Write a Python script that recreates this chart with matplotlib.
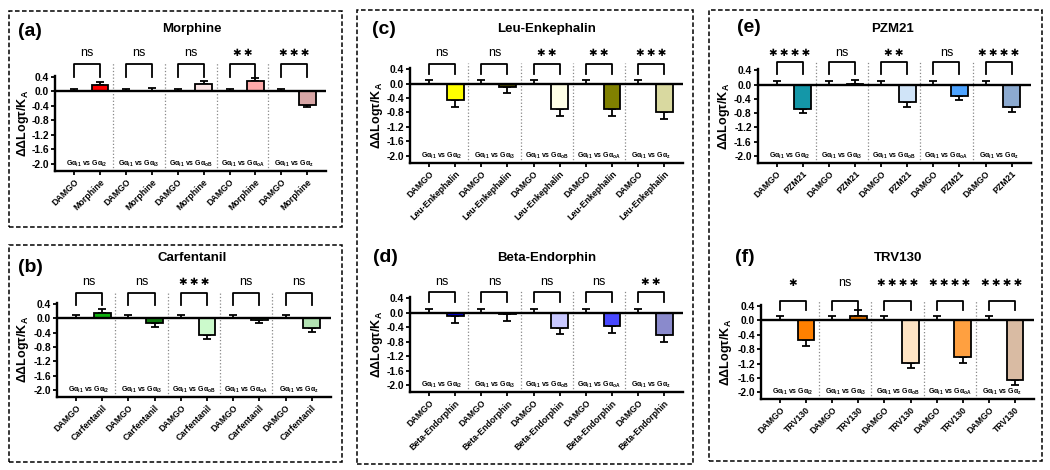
import numpy as np
import matplotlib
matplotlib.use("Agg")
import matplotlib.pyplot as plt
from matplotlib.patches import Rectangle

plt.rcParams["font.family"] = ["Liberation Sans", "DejaVu Sans"]
plt.rcParams["font.weight"] = "bold"
plt.rcParams["mathtext.default"] = "regular"

W, H = 1050, 470

# ---- data ----
PAIR_LABELS = [r"G$\alpha_{i1}$ vs G$\alpha_{i2}$", r"G$\alpha_{i1}$ vs G$\alpha_{i3}$",
               r"G$\alpha_{i1}$ vs G$\alpha_{oB}$", r"G$\alpha_{i1}$ vs G$\alpha_{oA}$",
               r"G$\alpha_{i1}$ vs G$\alpha_{z}$"]
Y_TICKS = [0.4, 0.0, -0.4, -0.8, -1.2, -1.6, -2.0]
REFERENCE = "DAMGO"

MORPHINE_MEAN = [0.18, 0.01, 0.20, 0.29, -0.36]
MORPHINE_ERR = [0.08, 0.08, 0.08, 0.08, 0.08]
MORPHINE_DAMGO_ERR = 0.06
MORPHINE_SIG = ["ns", "ns", "ns", "**", "***"]

CARFENTANIL_MEAN = [0.16, -0.13, -0.47, -0.04, -0.26]
CARFENTANIL_ERR = [0.10, 0.12, 0.11, 0.10, 0.11]
CARFENTANIL_DAMGO_ERR = 0.08
CARFENTANIL_SIG = ["ns", "ns", "***", "ns", "ns"]

LEU_MEAN = [-0.45, -0.08, -0.70, -0.70, -0.80]
LEU_ERR = [0.19, 0.18, 0.19, 0.19, 0.19]
LEU_DAMGO_ERR = 0.09
LEU_SIG = ["ns", "ns", "**", "**", "***"]

BETA_MEAN = [-0.08, -0.03, -0.41, -0.37, -0.61]
BETA_ERR = [0.20, 0.19, 0.19, 0.19, 0.20]
BETA_DAMGO_ERR = 0.09
BETA_SIG = ["ns", "ns", "ns", "ns", "**"]

PZM_MEAN = [-0.67, 0.01, -0.50, -0.32, -0.64]
PZM_ERR = [0.12, 0.12, 0.13, 0.12, 0.12]
PZM_DAMGO_ERR = 0.11
PZM_SIG = ["****", "ns", "**", "ns", "****"]

TRV_MEAN = [-0.54, 0.13, -1.18, -1.03, -1.65]
TRV_ERR = [0.17, 0.16, 0.15, 0.16, 0.16]
TRV_DAMGO_ERR = 0.13
TRV_SIG = ["*", "ns", "****", "****", "****"]

# ---- layout (pixels) ----
PANELS = [
    dict(tag="(a)", name="Morphine", mean=MORPHINE_MEAN, err=MORPHINE_ERR,
         derr=MORPHINE_DAMGO_ERR, sig=MORPHINE_SIG,
         colors=["#FF0000", "#B00000", "#FCE4E4", "#FFAAAA", "#D8A6A6"],
         x0=74, x9=307.3, y04=77, y20=164, br=(0.39, 0.75, 1.05),
         title=(192, 29), label=(18, 31), ylab=23),
    dict(tag="(b)", name="Carfentanil", mean=CARFENTANIL_MEAN, err=CARFENTANIL_ERR,
         derr=CARFENTANIL_DAMGO_ERR, sig=CARFENTANIL_SIG,
         colors=["#10B010", "#107A10", "#CCFACC", "#7FD87F", "#B4E4B4"],
         x0=76, x9=311.7, y04=304, y20=390, br=(0.36, 0.72, 1.02),
         title=(192, 258), label=(18, 268), ylab=23),
    dict(tag="(c)", name="Leu-Enkephalin", mean=LEU_MEAN, err=LEU_ERR,
         derr=LEU_DAMGO_ERR, sig=LEU_SIG,
         colors=["#FFFF00", "#404000", "#FFFFE6", "#808000", "#D9D9A0"],
         x0=429, x9=664.3, y04=69.3, y20=155.7, br=(0.27, 0.55, 0.84),
         title=(547, 29), label=(372, 30), ylab=377),
    dict(tag="(d)", name="Beta-Endorphin", mean=BETA_MEAN, err=BETA_ERR,
         derr=BETA_DAMGO_ERR, sig=BETA_SIG,
         colors=["#0000E0", "#2020A0", "#C8C8FF", "#4848FF", "#8A8ACC"],
         x0=429, x9=664.3, y04=298.3, y20=385, br=(0.30, 0.57, 0.84),
         title=(547, 258), label=(373, 258), ylab=377),
    dict(tag="(e)", name="PZM21", mean=PZM_MEAN, err=PZM_ERR,
         derr=PZM_DAMGO_ERR, sig=PZM_SIG,
         colors=["#1497A8", "#1070A0", "#D0E4F8", "#4DA3FF", "#8CAAD0"],
         x0=776.7, x9=1011.7, y04=70.3, y20=156, br=(0.29, 0.63, 0.89),
         title=(893, 29), label=(737, 28), ylab=724),
    dict(tag="(f)", name="TRV130", mean=TRV_MEAN, err=TRV_ERR,
         derr=TRV_DAMGO_ERR, sig=TRV_SIG,
         colors=["#FF8000", "#D36B00", "#FFE4C4", "#FFA040", "#D9BBA3"],
         x0=780, x9=1015, y04=306, y20=392.3, br=(0.29, 0.55, 1.05),
         title=(898, 258), label=(735, 258), ylab=726),
]

BOXES = [(9, 11, 342, 227), (9, 245, 342, 462), (357, 10, 693, 464), (709, 10, 1042, 461)]

XLIM = (-0.72, 9.72)
YLIM = (-2.2, 0.44)

fig = plt.figure(figsize=(W / 100, H / 100), dpi=100)

for (l, t, r, b) in BOXES:
    fig.patches.append(Rectangle((l / W, 1 - b / H), (r - l) / W, (b - t) / H,
                                 transform=fig.transFigure, fill=False,
                                 ec="black", lw=1.1, ls=(0, (3, 1.6))))

for p in PANELS:
    ux = (p["x9"] - p["x0"]) / 9
    uy = (p["y20"] - p["y04"]) / 2.4
    left = p["x0"] + XLIM[0] * ux
    right = p["x0"] + XLIM[1] * ux
    top = p["y04"] - (YLIM[1] - 0.4) * uy
    bottom = p["y20"] + (-2.0 - YLIM[0]) * uy
    ax = fig.add_axes([left / W, 1 - bottom / H, (right - left) / W, (bottom - top) / H])

    x = np.arange(10)
    vals, cols, lo, hi, names = [], [], [], [], []
    for m, e, c in zip(p["mean"], p["err"], p["colors"]):
        vals += [0.0, m]
        cols += ["white", c]
        lo += [0.0, e if m < 0 else 0.0]
        hi += [p["derr"], 0.0 if m < 0 else e]
        names += [REFERENCE, p["name"]]

    ax.bar(x, vals, width=0.64, color=cols, edgecolor="black", linewidth=1.3, zorder=3)
    ax.errorbar(x, vals, yerr=[lo, hi], fmt="none", ecolor="black",
                elinewidth=1.3, capsize=3, capthick=1.3, zorder=2)
    ax.axhline(0, color="black", lw=1.7, zorder=4)

    ax.set_xlim(*XLIM)
    ax.set_ylim(*YLIM)
    ax.set_yticks(Y_TICKS)
    ax.set_yticklabels([f"{v:.1f}" for v in Y_TICKS], fontsize=7.4, fontweight="bold")
    ax.set_xticks(x)
    ax.set_xticklabels(names, rotation=45, ha="right", rotation_mode="anchor",
                       fontsize=6.3, fontweight="bold")
    for s in ("top", "right"):
        ax.spines[s].set_visible(False)
    for s in ("left", "bottom"):
        ax.spines[s].set_linewidth(1.7)
    ax.tick_params(axis="both", width=1.3, length=3, pad=1.5)
    ax.patch.set_alpha(0)

    br_bot, br_top, br_txt = p["br"]
    for g in range(5):
        if g > 0:
            ax.plot([2 * g - 0.5] * 2, [YLIM[0], br_top + 0.03], ls=":", color="#888888",
                    lw=0.9, clip_on=False, zorder=1)
        ax.plot([2 * g, 2 * g, 2 * g + 1, 2 * g + 1], [br_bot, br_top, br_top, br_bot],
                color="black", lw=1.3, clip_on=False)
        s = p["sig"][g]
        if s == "ns":
            ax.text(2 * g + 0.5, br_txt, "ns", ha="center", va="center", fontsize=9,
                    fontweight="normal", clip_on=False)
        else:
            ax.text(2 * g + 0.5, br_txt, "\u2009".join(["\u2731"] * len(s)), ha="center",
                    va="center", fontsize=7.5, family=["DejaVu Sans"], clip_on=False)
        ax.text(2 * g + 0.5, -2.0, PAIR_LABELS[g], ha="center", va="center", fontsize=5,
                fontweight="bold")

    fig.text(p["title"][0] / W, 1 - p["title"][1] / H, p["name"], ha="center", va="center",
             fontsize=9.5, fontweight="bold")
    fig.text(p["label"][0] / W, 1 - p["label"][1] / H, p["tag"], ha="left", va="center",
             fontsize=14, fontweight="bold")
    fig.text(p["ylab"] / W, 1 - (top + bottom) / 2 / H, r"ΔΔLogτ/K$_A$", rotation=90,
             ha="center", va="center", fontsize=9, fontweight="bold")

fig.savefig("out.png", dpi=100)
